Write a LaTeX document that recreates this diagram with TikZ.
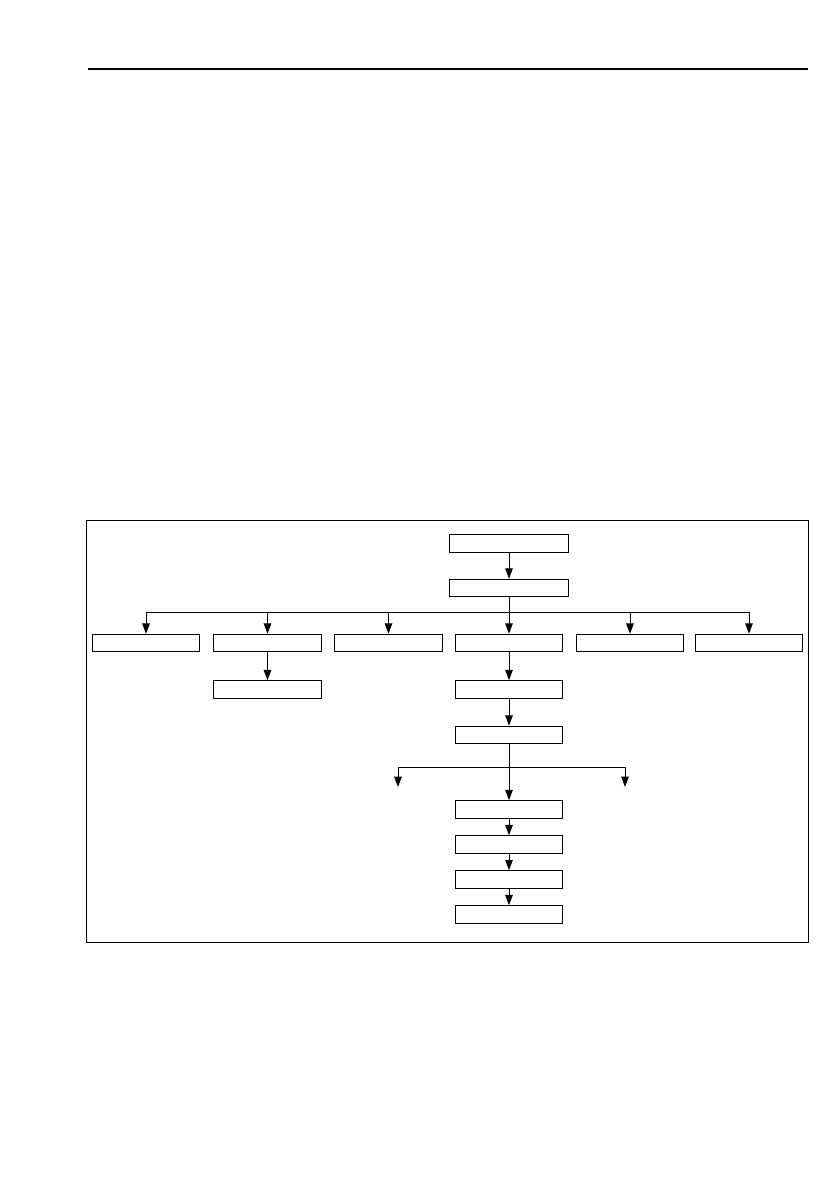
\documentclass[tikz,border=0pt]{standalone}
\usetikzlibrary{arrows.meta}
\begin{document}
\begin{tikzpicture}[
        x=0.025cm, y=-0.025cm,
        line width=0.7pt,
        wide/.style={rectangle, draw, minimum width=29.5mm, minimum height=4.4mm, inner sep=0pt},
        item/.style={rectangle, draw, minimum width=26.8mm, minimum height=4.4mm, inner sep=0pt},
        link/.style={-{Triangle[length=2.6mm, width=1.9mm]}}
    ]
        \useasboundingbox (0,0) rectangle (838,1192);

        % Page rule and frame
        \draw[line width=1.4pt] (88,69) -- (808,69);
        \draw (86,520) rectangle (808,942);

        % Top of the chart
        \node[wide] (head) at (509,543.5) {};
        \node[wide] (main) at (509,588) {};
        \draw[link] (head) -- (main);

        % Row of six branches
        \node[item] (br1) at (146,643) {};
        \node[item] (br2) at (267.5,643) {};
        \node[item] (br3) at (388.5,643) {};
        \node[item] (br4) at (509,643) {};
        \node[item] (br5) at (630,643) {};
        \node[item] (br6) at (749,643) {};
        \coordinate (bus) at (509,612);
        \draw (main) -- (bus);
        \foreach \b in {br1,br2,br3,br4,br5,br6}
            \draw[link] (bus) -| (\b);

        % Below branch 2
        \node[item] (sub2) at (267.5,689.5) {};
        \draw[link] (br2) -- (sub2);

        % Below branch 4
        \node[item] (sub4) at (509,689.5) {};
        \node[item] (pre) at (509,735) {};
        \draw[link] (br4) -- (sub4);
        \draw[link] (sub4) -- (pre);

        % Fork with two open ends
        \coordinate (fork) at (509,767);
        \coordinate (lft) at (398,787);
        \coordinate (rgt) at (625,787);
        \draw (pre) -- (fork);
        \draw[link] (fork) -| (lft);
        \draw[link] (fork) -| (rgt);

        % Chain at the bottom
        \node[item] (st1) at (509,809.5) {};
        \node[item] (st2) at (509,844.5) {};
        \node[item] (st3) at (509,879.5) {};
        \node[item] (st4) at (509,914.5) {};
        \draw[link] (fork) -- (st1);
        \draw[link] (st1) -- (st2);
        \draw[link] (st2) -- (st3);
        \draw[link] (st3) -- (st4);

    \end{tikzpicture}
\end{document}
